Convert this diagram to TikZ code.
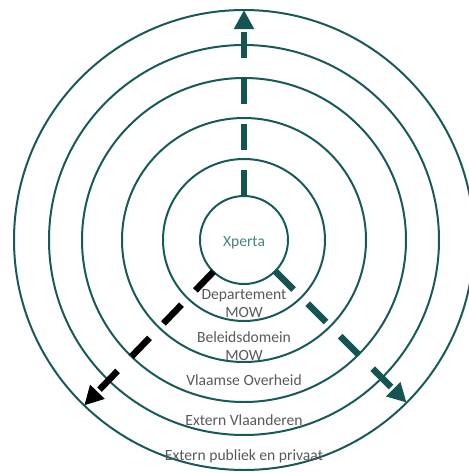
\documentclass[tikz,border=0pt]{standalone}
\usepackage{fontspec}
\setmainfont{Carlito}
\usetikzlibrary{arrows.meta}
\definecolor{ringteal}{RGB}{24,90,88}
\definecolor{arrowteal}{RGB}{20,84,82}
\definecolor{labelgray}{RGB}{89,89,89}
\definecolor{xpertateal}{RGB}{72,132,129}
\tikzset{
  ring/.style={circle, draw=ringteal, line width=2pt, inner sep=0pt, outer sep=0pt},
  lbl/.style={font=\fontsize{15.6}{18}\selectfont, text=labelgray, align=center, inner sep=0pt, anchor=base},
  flowarrow/.style={line width=6.5pt, dash pattern=on 26pt off 20pt, -{Triangle[length=19pt,width=19pt]}},
}
\begin{document}
\begin{tikzpicture}[x=1pt,y=1pt]
\useasboundingbox (0,0) rectangle (469,-472);
\clip (0,0) rectangle (469,-472);
\coordinate (ctr) at (244,-240);
\node[ring, minimum size=460pt] (c5) at (ctr) {};
\node[ring, minimum size=390pt] (c4) at (ctr) {};
\node[ring, minimum size=324pt] (c3) at (ctr) {};
\node[ring, minimum size=244pt] (c2) at (ctr) {};
\node[ring, minimum size=162pt] (c1) at (ctr) {};
\node[ring, minimum size=88pt] (c0) at (ctr) {};
\node[lbl, text=xpertateal] (tx) at (244,-246) {Xperta};
\node[lbl] (t1) at (244,-317) {Departement\\MOW};
\node[lbl] (t2) at (244,-360) {Beleidsdomein\\MOW};
\node[lbl] (t3) at (244,-385) {Vlaamse Overheid};
\node[lbl] (t4) at (244,-425) {Extern Vlaanderen};
\node[lbl] (t5) at (244,-460) {Extern publiek en privaat};
\draw[flowarrow, arrowteal] (c0.90) -- (c5.90);
\draw[flowarrow, arrowteal] (c0.-45.7) -- (c5.-45.7);
\draw[flowarrow, black] (c0.-134.5) -- (c5.-134.5);
\end{tikzpicture}
\end{document}
